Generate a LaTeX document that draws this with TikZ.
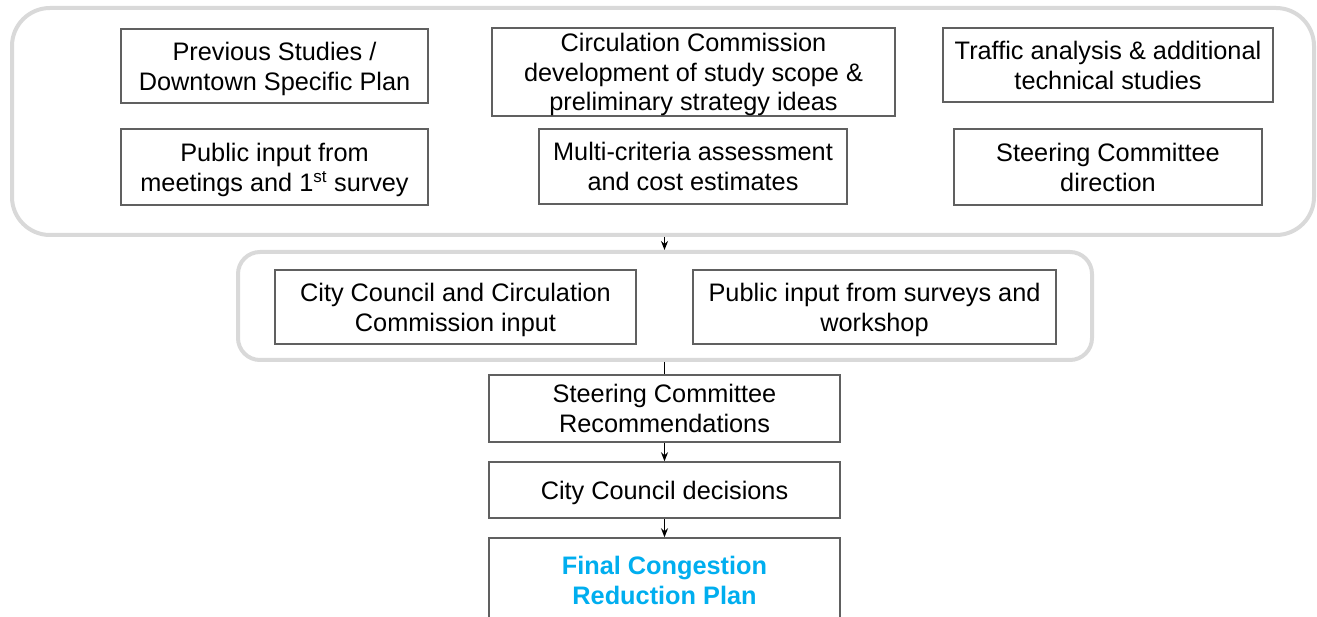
\documentclass[tikz,border=0pt]{standalone}
\usepackage{fontspec}
\setmainfont{Liberation Sans}
\usetikzlibrary{arrows.meta}
\definecolor{boxline}{HTML}{606060}
\definecolor{grpline}{HTML}{D9D9D9}
\definecolor{finalblue}{HTML}{00AEEF}
\begin{document}
\begin{tikzpicture}[x=1pt,y=-1pt,
  stepbox/.style={draw=boxline, line width=1.5pt, fill=white, align=center,
    inner sep=0pt, text depth=0pt, font=\fontsize{25.3}{29.8}\selectfont},
  grp/.style={draw=grpline, line width=4pt, rounded corners=#1, inner sep=0pt},
  arr/.style={-{Stealth[length=9pt,width=7pt]}, line width=1.2pt, black},
  plain/.style={line width=1.2pt, black}]
\useasboundingbox (0,0) rectangle (1317,617);
\node[grp=38pt, minimum width=1302pt, minimum height=227pt] (outer1) at (663,121.5) {};
\node[grp=22pt, minimum width=854pt, minimum height=108pt] (outer2) at (665,306) {};

\node[stepbox, minimum width=307pt, minimum height=74pt] (prev) at (274.5,66) {Previous Studies /\\Downtown Specific Plan};
\node[stepbox, minimum width=403pt, minimum height=88pt] (circ) at (693.5,72) {Circulation Commission\\development of study scope \&\\preliminary strategy ideas};
\node[stepbox, minimum width=330pt, minimum height=74pt] (traf) at (1108,65) {Traffic analysis \& additional\\technical studies};
\node[stepbox, minimum width=307pt, minimum height=76pt] (pub1) at (274.5,167) {Public input from\\meetings and 1\textsuperscript{\fontsize{17}{17}\selectfont st} survey};
\node[stepbox, minimum width=308pt, minimum height=75pt] (multi) at (693,166.5) {Multi-criteria assessment\\and cost estimates};
\node[stepbox, minimum width=308pt, minimum height=76pt] (steer) at (1108,167) {Steering Committee\\direction};

\node[stepbox, minimum width=361pt, minimum height=74pt] (cc) at (455.5,307) {City Council and Circulation\\Commission input};
\node[stepbox, minimum width=363pt, minimum height=74pt] (pubs) at (874.5,307) {Public input from surveys and\\workshop};

\node[stepbox, minimum width=351pt, minimum height=67pt] (rec) at (664.5,408.5) {Steering Committee\\Recommendations};
\node[stepbox, minimum width=351pt, minimum height=56pt] (dec) at (664.5,490) {City Council decisions};
\node[stepbox, minimum width=351pt, minimum height=84pt, text=finalblue, font=\fontsize{25.3}{29.8}\selectfont\bfseries] (final) at (664.5,580) {Final Congestion\\Reduction Plan};

\draw[arr] (outer1.south -| rec.north) -- (outer2.north -| rec.north);
\draw[plain] (outer2.south -| rec.north) -- (rec.north);
\draw[arr] (rec.south) -- (dec.north);
\draw[arr] (dec.south) -- (final.north);
\end{tikzpicture}
\end{document}
